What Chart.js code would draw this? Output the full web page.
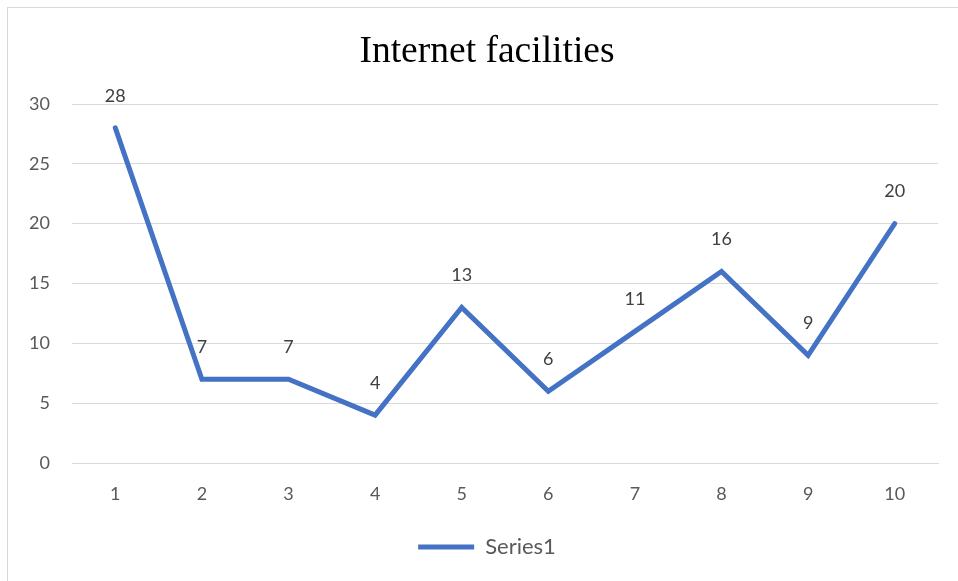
<!DOCTYPE html>
<html>
<head>
<meta charset="utf-8">
<script src="https://cdn.jsdelivr.net/npm/chart.js@4/dist/chart.umd.min.js"></script>
<style>
  html, body { margin: 0; padding: 0; background: #fff; }
  #wrap { position: relative; width: 958px; height: 581px; overflow: hidden; }
  #frame { position: absolute; left: 7px; top: 7px; width: 960px; height: 590px; border: 1px solid #d9d9d9; box-sizing: border-box; }
  canvas { position: absolute; left: 0; top: 0; }
</style>
</head>
<body>
<div id="wrap">
  <div id="frame"></div>
  <canvas id="chart" width="958" height="581"></canvas>
</div>
<script>
const categories = ["1", "2", "3", "4", "5", "6", "7", "8", "9", "10"]
const series1 = [28, 7, 7, 4, 13, 6, 11, 16, 9, 20]
const yTicks = [0, 5, 10, 15, 20, 25, 30]

const tickFont = { family: "Lato, 'Open Sans', sans-serif", size: 18 }

// values written above each point, like the spreadsheet's data labels
const pointLabels = {
	id: "pointLabels",
	afterDatasetsDraw(chart) {
		const c = chart.ctx
		const meta = chart.getDatasetMeta(0)
		c.save()
		c.font = "18px Lato, 'Open Sans', sans-serif"
		c.fillStyle = "#404040"
		c.textAlign = "center"
		c.textBaseline = "middle"
		meta.data.forEach((pt, i) => {
			c.fillText(String(series1[i]), pt.x, pt.y - 32)
		})
		c.restore()
	},
}

const config = {
	type: "line",
	data: {
		labels: categories,
		datasets: [
			{
				label: "Series1",
				data: series1,
				borderColor: "#4472C4",
				backgroundColor: "#4472C4",
				borderWidth: 5,
				borderCapStyle: "round",
				borderJoinStyle: "miter",
				pointRadius: 0,
				pointHoverRadius: 0,
				tension: 0,
			},
		],
	},
	options: {
		responsive: false,
		animation: false,
		layout: { padding: { left: 16, right: 0, top: 0, bottom: 13 } },
		plugins: {
			title: {
				display: true,
				text: "Internet facilities",
				color: "#000",
				font: { family: "'Liberation Serif', 'Times New Roman', serif", size: 37.5, weight: "normal" },
				padding: { top: 30, bottom: 29 },
			},
			legend: {
				position: "bottom",
				labels: {
					usePointStyle: true,
					pointStyle: "line",
					pointStyleWidth: 56,
					color: "#595959",
					font: { family: "Lato, 'Open Sans', sans-serif", size: 22 },
					padding: 25,
				},
			},
			tooltip: { enabled: false },
		},
		scales: {
			x: {
				offset: true,
				grid: { display: false, drawTicks: false },
				border: { display: true, color: "#d9d9d9", width: 1 },
				ticks: { color: "#595959", font: tickFont, padding: 20 },
				afterFit: (scale) => { scale.height = 48 },
			},
			y: {
				min: 0,
				max: 30,
				afterBuildTicks: (scale) => { scale.ticks = yTicks.map((v) => ({ value: v })) },
				grid: { color: "#d9d9d9", lineWidth: 1, drawTicks: false },
				border: { display: false },
				ticks: { color: "#595959", font: tickFont, padding: 22 },
				afterFit: (scale) => { scale.width = 56 },
			},
			// empty right-hand strip so the plot ends where the reference does
			yRight: {
				position: "right",
				grid: { display: false, drawTicks: false },
				border: { display: false },
				ticks: { display: false },
				afterFit: (scale) => { scale.width = 20 },
			},
		},
	},
	plugins: [pointLabels],
}

new Chart(document.getElementById("chart"), config)
</script>
</body>
</html>
